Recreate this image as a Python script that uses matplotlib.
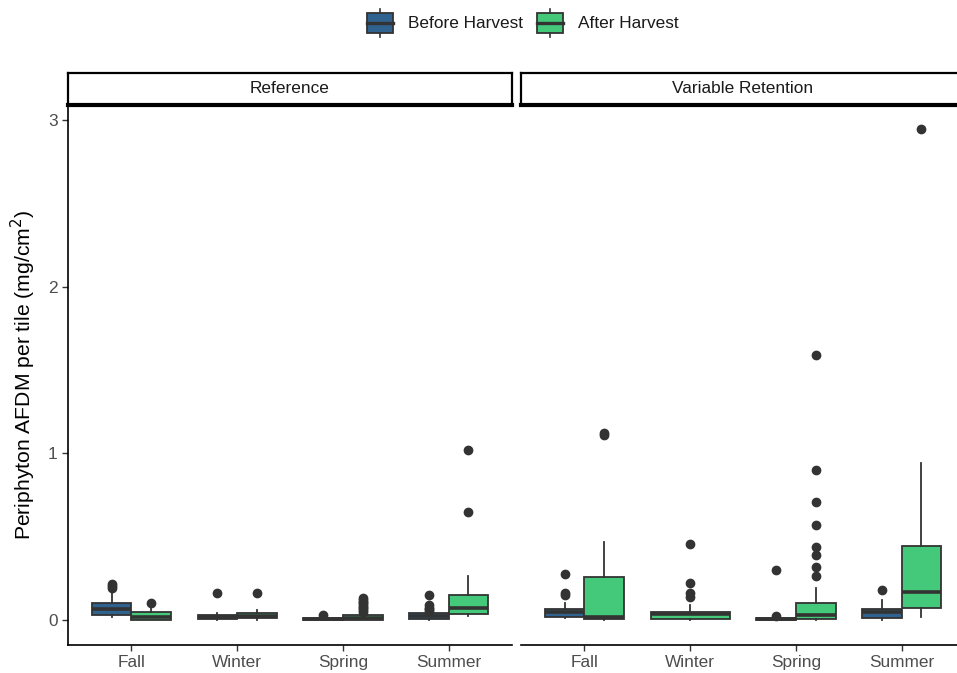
import matplotlib.pyplot as plt
from matplotlib.patches import Rectangle
from matplotlib.lines import Line2D

plt.rcParams['font.family'] = ['Liberation Sans', 'DejaVu Sans']

seasons = ["Fall", "Winter", "Spring", "Summer"]
facets = ["Reference", "Variable Retention"]
groups = ["Before Harvest", "After Harvest"]
colors = ["#30628F", "#43C979"]

# box stats per season: (whislo, q1, med, q3, whishi, fliers); None = no data
ref_before = [
    (0.02, 0.03, 0.065, 0.10, 0.16, [0.19, 0.205, 0.215]),
    (0.0, 0.008, 0.02, 0.03, 0.045, [0.165]),
    (0.0, 0.0, 0.008, 0.015, 0.02, [0.03]),
    (0.0, 0.008, 0.025, 0.04, 0.05, [0.055, 0.065, 0.075, 0.09, 0.15]),
]
ref_after = [
    (0.0, 0.0, 0.02, 0.046, 0.08, [0.104]),
    (0.0, 0.01, 0.025, 0.04, 0.06, [0.165]),
    (0.0, 0.0, 0.015, 0.03, 0.04, [0.05, 0.06, 0.07, 0.08, 0.09, 0.10, 0.11, 0.12, 0.13]),
    (0.024, 0.036, 0.07, 0.15, 0.265, [0.65, 1.02]),
]
vr_before = [
    (0.01, 0.02, 0.05, 0.066, 0.10, [0.15, 0.16, 0.275]),
    None,
    (0.0, 0.0, 0.005, 0.012, 0.02, [0.025, 0.30]),
    (0.0, 0.015, 0.05, 0.068, 0.12, [0.18]),
]
vr_after = [
    (0.0, 0.005, 0.016, 0.258, 0.47, [1.11, 1.12]),
    (0.0, 0.005, 0.034, 0.05, 0.09, [0.14, 0.16, 0.22, 0.455]),
    (0.0, 0.008, 0.03, 0.10, 0.195, [0.265, 0.32, 0.39, 0.44, 0.57, 0.71, 0.90, 1.59]),
    (0.02, 0.072, 0.168, 0.444, 0.944, [2.945]),
]
panel_data = [(ref_before, ref_after), (vr_before, vr_after)]

W, H = 957, 673
fig = plt.figure(figsize=(W / 100, H / 100), dpi=100)

line_col = "#333333"
text_col = "#4D4D4D"
fs = 12.4


def fx(px):
    return px / W


def fy(py):
    return 1 - py / H


panel_left = [68, 521]
panel_w = 444
top, bottom = 105, 645

for p, (name, (before, after)) in enumerate(zip(facets, panel_data)):
    ax = fig.add_axes([fx(panel_left[p]), fy(bottom), panel_w / W, (bottom - top) / H])
    for i in range(len(seasons)):
        pair = [before[i], after[i]]
        present = [g for g in range(2) if pair[g] is not None]
        for g in present:
            lo, q1, med, q3, hi, fl = pair[g]
            if len(present) == 2:
                pos, wid = i + 1 + (-0.1875 if g == 0 else 0.1875), 0.375
            else:
                pos, wid = i + 1, 0.75
            st = dict(whislo=lo, q1=q1, med=med, q3=q3, whishi=hi, fliers=fl)
            ax.bxp([st], positions=[pos], widths=wid, showcaps=False,
                   patch_artist=True,
                   boxprops=dict(facecolor=colors[g], edgecolor=line_col, linewidth=1.3),
                   whiskerprops=dict(color=line_col, linewidth=1.3),
                   medianprops=dict(color=line_col, linewidth=2.6),
                   flierprops=dict(marker='o', markerfacecolor=line_col,
                                   markeredgecolor=line_col, markersize=6))
    ax.set_xlim(0.4, 4.6)
    ax.set_ylim(-0.15, 3.09)
    ax.set_xticks(range(1, 5))
    ax.set_xticklabels(seasons)
    ax.set_yticks([0, 1, 2, 3])
    for s in ['top', 'right']:
        ax.spines[s].set_visible(False)
    ax.spines['bottom'].set_linewidth(1.2)
    ax.spines['left'].set_linewidth(1.2)
    ax.tick_params(axis='both', colors=line_col, labelcolor=text_col,
                   labelsize=fs, length=4, width=1)
    if p == 1:
        ax.spines['left'].set_visible(False)
        ax.tick_params(axis='y', left=False, labelleft=False)
    else:
        ax.set_ylabel("Periphyton AFDM per tile (mg/cm$^2$)", fontsize=15.2, labelpad=7)
    ax.set_facecolor('none')

    # strip
    sx = ax.inset_axes([0, 1.0, 1, 32.5 / (bottom - top)])
    sx.set_xticks([])
    sx.set_yticks([])
    for s in sx.spines.values():
        s.set_linewidth(1.6)
    sx.spines['bottom'].set_linewidth(3)
    if p == 1:
        sx.spines['right'].set_visible(False)
    sx.text(0.5, 0.5, name, ha='center', va='center', fontsize=fs,
            color='#1A1A1A', transform=sx.transAxes)

# legend drawn in pixel coordinates
lg = fig.add_axes([0, 0, 1, 1])
lg.set_xlim(0, W)
lg.set_ylim(H, 0)
lg.axis('off')
key_x = [367, 537]
text_x = [408, 578]
for g in range(2):
    x0 = key_x[g]
    lg.add_patch(Rectangle((x0, 13), 26, 20, facecolor=colors[g], edgecolor=line_col, lw=1.3))
    lg.add_line(Line2D([x0, x0 + 26], [23, 23], color=line_col, lw=2.4))
    lg.add_line(Line2D([x0 + 13, x0 + 13], [9, 13], color=line_col, lw=1.2))
    lg.add_line(Line2D([x0 + 13, x0 + 13], [33, 37], color=line_col, lw=1.2))
    lg.text(text_x[g], 23, groups[g], ha='left', va='center', fontsize=fs, color='#1A1A1A')

fig.savefig("out.png", dpi=100)
